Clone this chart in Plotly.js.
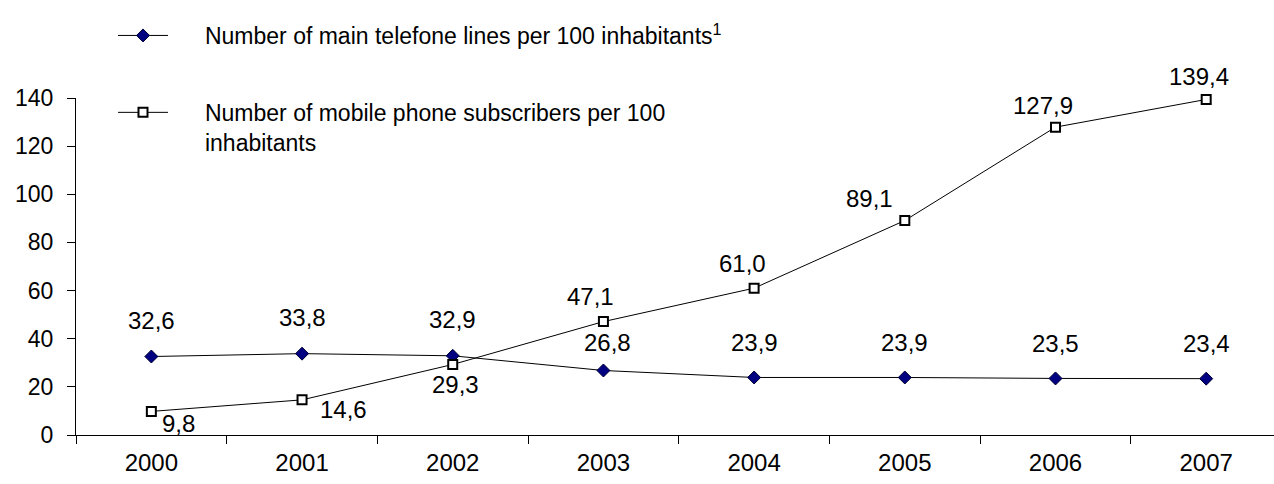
<!DOCTYPE html>
<html>
<head>
<meta charset="utf-8">
<script src="https://cdn.plot.ly/plotly-3.0.1.min.js"></script>
<style>html,body{margin:0;padding:0;background:#ffffff;}</style>
</head>
<body>
<div id="chart" style="width:1274px;height:484px;"></div>
<script>
// ---- data ----
const years = ['2000', '2001', '2002', '2003', '2004', '2005', '2006', '2007'];
const mainLines = [32.6, 33.8, 32.9, 26.8, 23.9, 23.9, 23.5, 23.4];
const mobileSubs = [9.8, 14.6, 29.3, 47.1, 61.0, 89.1, 127.9, 139.4];
const mainName = 'Number of main telefone lines per 100 inhabitants<sup>1</sup>';
const mobileName = 'Number of mobile phone subscribers per 100<br>inhabitants';
const yTickValues = [0, 20, 40, 60, 80, 100, 120, 140];

// ---- label placement (styling only: pixel offsets from each point) ----
const mainLabelShift = [[0, 36], [0, 36], [0, 36], [4, 28], [0, 35], [0, 35], [0, 35], [0, 35]];
const mobileLabelShift = [[27, -12], [41, -10], [3, -20], [-13, 25], [-12, 25], [-35, 22], [-13, 22], [-7, 23]];

const FONT = 'Liberation Sans, Arial, Helvetica, sans-serif';
const fmt = v => v.toFixed(1).replace('.', ',');
const pad = '\u00A0\u00A0\u00A0\u00A0\u00A0';

const traces = [
  {
    x: years, y: mainLines, type: 'scatter', mode: 'lines+markers',
    name: pad + mainName, legendgroup: 'a',
    line: {color: '#000000', width: 1},
    marker: {symbol: 'diamond', size: 10, color: '#000080', line: {color: '#000033', width: 1}},
    cliponaxis: false, hoverinfo: 'skip'
  },
  {
    x: years, y: mobileSubs, type: 'scatter', mode: 'lines+markers',
    name: pad + mobileName.replace('<br>', '<br>' + pad), legendgroup: 'b',
    line: {color: '#000000', width: 1},
    marker: {symbol: 'square', size: 9, color: '#ffffff', line: {color: '#000000', width: 2}},
    cliponaxis: false, hoverinfo: 'skip'
  }
];

const annotations = [];
years.forEach((yr, i) => {
  annotations.push({
    x: i, y: mainLines[i], xref: 'x', yref: 'y', text: fmt(mainLines[i]),
    showarrow: false, xanchor: 'center', yanchor: 'middle',
    xshift: mainLabelShift[i][0], yshift: mainLabelShift[i][1],
    font: {family: FONT, size: 24, color: '#000000'}
  });
  annotations.push({
    x: i, y: mobileSubs[i], xref: 'x', yref: 'y', text: fmt(mobileSubs[i]),
    showarrow: false, xanchor: 'center', yanchor: 'middle',
    xshift: mobileLabelShift[i][0], yshift: mobileLabelShift[i][1],
    font: {family: FONT, size: 24, color: '#000000'}
  });
});

const layout = {
  width: 1274, height: 484,
  margin: {l: 76, r: 0, t: 98, b: 49, pad: 0, autoexpand: false},
  paper_bgcolor: '#ffffff', plot_bgcolor: '#ffffff',
  font: {family: FONT, size: 24, color: '#000000'},
  showlegend: true,
  legend: {
    xref: 'container', yref: 'container',
    x: 113 / 1274, y: 1 - 14 / 484, xanchor: 'left', yanchor: 'top',
    bgcolor: 'rgba(0,0,0,0)', borderwidth: 0,
    traceorder: 'grouped', tracegroupgap: 44, valign: 'top',
    itemwidth: 50, itemclick: false, itemdoubleclick: false,
    font: {family: FONT, size: 23, color: '#000000'}
  },
  xaxis: {
    type: 'category', range: [-0.5, 7.45],
    showline: true, linecolor: '#000000', linewidth: 1,
    showgrid: false, zeroline: false,
    ticks: 'outside', ticklen: 8, tickcolor: '#000000', tickwidth: 1,
    tickson: 'boundaries', ticklabelstandoff: 6,
    tickfont: {family: FONT, size: 24, color: '#000000'},
    fixedrange: true
  },
  yaxis: {
    range: [0, 140], tickvals: yTickValues, ticktext: yTickValues.map(String),
    showline: true, linecolor: '#000000', linewidth: 1,
    showgrid: false, zeroline: false,
    ticks: 'outside', ticklen: 8, tickcolor: '#000000', tickwidth: 1,
    ticklabelstandoff: 9,
    tickfont: {family: FONT, size: 23, color: '#000000'},
    fixedrange: true
  },
  annotations: annotations
};

Plotly.newPlot('chart', traces, layout, {displayModeBar: false, staticPlot: true});
</script>
</body>
</html>
